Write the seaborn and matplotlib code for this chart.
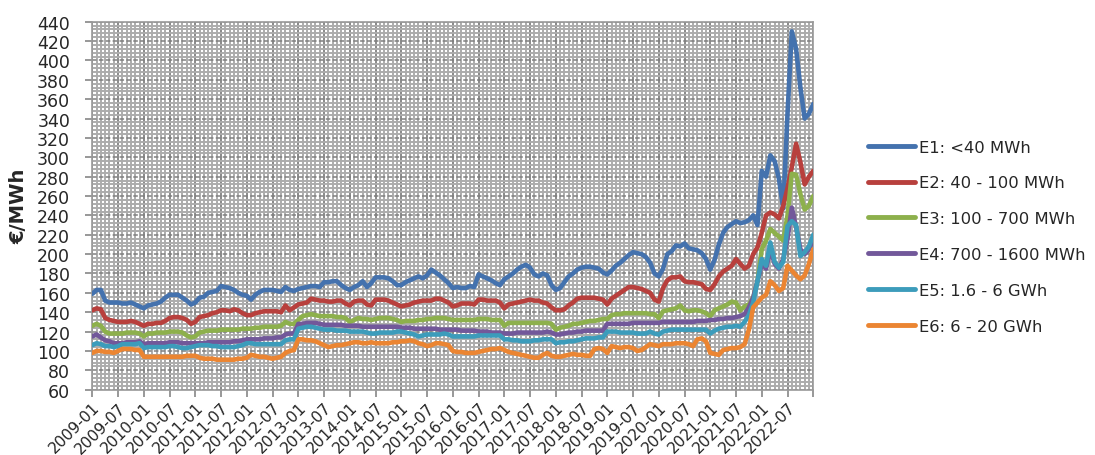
import numpy as np
import pandas as pd
import matplotlib
matplotlib.use("Agg")
import matplotlib.pyplot as plt
from matplotlib.ticker import MultipleLocator, FixedLocator
import seaborn as sns

# ---------------- data ----------------
months = pd.date_range("2009-01-01", "2023-01-01", freq="MS").strftime("%Y-%m").tolist()

series_names = ["E1: <40 MWh", "E2: 40 - 100 MWh", "E3: 100 - 700 MWh",
                "E4: 700 - 1600 MWh", "E5: 1.6 - 6 GWh", "E6: 6 - 20 GWh"]

e1 = [159, 163, 163, 152, 150, 150, 150, 149, 149, 150, 148, 146,
      144, 147, 148, 149, 151, 155, 158, 158, 158, 155, 152, 148,
      150, 155, 156, 160, 161, 162, 167, 166, 165, 163, 160, 158,
      157, 153, 158, 161, 163, 163, 163, 162, 161, 166, 163, 162,
      164, 165, 166, 167, 167, 166, 171, 171, 172, 172, 168, 165,
      163, 166, 168, 172, 166, 170, 176, 176, 176, 175, 172, 168,
      168, 171, 173, 175, 177, 175, 178, 184, 181, 178, 174, 170,
      165, 166, 165, 165, 167, 166, 179, 177, 175, 173, 170, 168,
      174, 177, 180, 184, 187, 189, 186, 179, 177, 180, 178, 168,
      163, 165, 171, 177, 180, 184, 186, 187, 187, 186, 185, 181,
      179, 183, 188, 191, 195, 199, 202, 201, 200, 197, 191, 180,
      177, 185, 200, 203, 209, 208, 211, 206, 205, 204, 201, 195,
      184, 194, 210, 222, 228, 231, 234, 232, 233, 235, 240, 230,
      286, 280, 302, 296, 278, 247, 345, 430, 412, 372, 340, 345,
      355]

e2 = [142, 144, 143, 134, 132, 131, 130, 130, 130, 131, 130, 128,
      126, 128, 128, 129, 129, 131, 134, 135, 135, 134, 132, 128,
      130, 135, 136, 137, 139, 140, 142, 142, 141, 143, 142, 139,
      137, 137, 139, 140, 141, 141, 141, 141, 140, 147, 142, 145,
      148, 149, 150, 154, 153, 152, 152, 151, 151, 152, 152, 149,
      147, 151, 152, 152, 148, 147, 153, 153, 153, 152, 150, 148,
      146, 147, 148, 150, 151, 152, 152, 152, 154, 154, 152, 150,
      146, 147, 149, 149, 149, 148, 153, 153, 152, 152, 152, 150,
      144, 148, 149, 150, 151, 152, 153, 152, 152, 150, 149, 145,
      142, 142, 143, 147, 150, 154, 155, 155, 155, 155, 154, 153,
      148, 154, 157, 160, 163, 166, 166, 165, 164, 162, 160, 153,
      151, 165, 173, 176, 176, 177, 172, 171, 171, 170, 169, 164,
      163, 169, 177, 182, 185, 188, 195, 190, 185, 188, 200, 207,
      222, 240, 243, 241, 237, 250, 268, 290, 314, 295, 272, 280,
      286]

e3 = [126, 128, 126, 120, 118, 118, 118, 118, 119, 119, 119, 118,
      115, 118, 118, 119, 119, 119, 120, 120, 120, 119, 116, 114,
      115, 119, 120, 121, 121, 121, 122, 122, 122, 122, 122, 123,
      123, 123, 124, 124, 125, 125, 125, 125, 126, 130, 128, 128,
      132, 136, 137, 138, 137, 136, 136, 136, 136, 135, 135, 134,
      130, 132, 134, 133, 133, 132, 133, 134, 134, 134, 133, 132,
      130, 131, 131, 131, 132, 132, 133, 133, 134, 134, 134, 133,
      132, 132, 132, 132, 132, 132, 133, 133, 133, 132, 132, 132,
      126, 129, 129, 129, 129, 129, 129, 129, 129, 129, 129, 128,
      122, 124, 125, 126, 128, 128, 129, 130, 131, 131, 132, 133,
      133, 137, 138, 138, 139, 139, 139, 139, 139, 139, 138, 138,
      134, 141, 142, 143, 144, 147, 142, 141, 142, 142, 141, 139,
      136, 142, 144, 146, 148, 151, 150, 142, 146, 148, 155, 172,
      205, 214, 226, 222, 218, 214, 240, 283, 282, 262, 246, 250,
      260]

e4 = [115, 117, 114, 111, 110, 108, 108, 108, 109, 109, 109, 110,
      107, 108, 108, 108, 108, 108, 109, 109, 109, 108, 108, 108,
      108, 108, 108, 109, 109, 109, 109, 109, 109, 110, 110, 111,
      112, 112, 112, 112, 113, 113, 113, 114, 114, 117, 118, 118,
      128, 128, 129, 129, 129, 128, 127, 127, 127, 127, 127, 126,
      126, 126, 126, 125, 125, 125, 125, 125, 125, 125, 125, 125,
      124, 124, 124, 123, 123, 123, 123, 123, 123, 122, 122, 122,
      122, 122, 121, 121, 121, 121, 120, 120, 120, 119, 119, 119,
      118, 118, 118, 119, 119, 119, 119, 119, 119, 119, 120, 119,
      117, 117, 118, 119, 119, 120, 120, 121, 121, 121, 121, 121,
      128, 128, 128, 128, 128, 128, 129, 129, 129, 129, 129, 129,
      129, 130, 130, 130, 130, 130, 130, 130, 130, 131, 131, 131,
      132, 132, 133, 133, 134, 134, 135, 136, 138, 145, 155, 172,
      190, 185, 205, 190, 185, 195, 216, 248, 228, 205, 200, 205,
      215]

e5 = [106, 108, 107, 105, 105, 104, 105, 107, 107, 107, 107, 108,
      103, 104, 104, 104, 104, 104, 105, 105, 104, 103, 103, 104,
      105, 106, 106, 106, 105, 105, 104, 104, 104, 104, 105, 106,
      108, 108, 107, 107, 107, 107, 107, 107, 107, 111, 112, 112,
      123, 124, 125, 125, 124, 123, 122, 122, 122, 121, 121, 121,
      120, 120, 120, 120, 119, 118, 118, 119, 119, 119, 119, 120,
      120, 119, 118, 117, 115, 116, 117, 117, 117, 117, 118, 117,
      115, 115, 115, 115, 115, 115, 116, 116, 116, 116, 116, 116,
      112, 112, 111, 111, 110, 110, 110, 111, 111, 112, 112, 112,
      108, 109, 109, 110, 110, 111, 112, 113, 113, 113, 114, 114,
      120, 120, 120, 119, 119, 119, 119, 118, 118, 118, 120, 118,
      117, 120, 121, 122, 122, 122, 122, 122, 122, 122, 122, 122,
      118, 121, 123, 124, 125, 125, 126, 125, 130, 137, 150, 172,
      195, 188, 212, 192, 186, 192, 229, 234, 230, 198, 202, 208,
      220]

e6 = [98, 100, 100, 99, 99, 98, 100, 102, 102, 102, 101, 101,
      94, 94, 94, 94, 94, 94, 94, 94, 94, 94, 95, 95,
      95, 93, 92, 92, 92, 91, 91, 91, 91, 91, 92, 92,
      93, 96, 95, 94, 94, 93, 92, 93, 94, 98, 100, 101,
      112, 112, 111, 111, 110, 108, 106, 104, 105, 106, 106, 107,
      108, 109, 109, 108, 108, 109, 108, 108, 108, 108, 109, 109,
      110, 110, 111, 110, 108, 107, 105, 106, 108, 108, 107, 106,
      100, 99, 99, 98, 98, 98, 99, 100, 101, 102, 102, 103,
      101, 99, 98, 97, 96, 95, 94, 93, 93, 96, 98, 95,
      94, 94, 95, 96, 97, 96, 96, 95, 95, 102, 103, 102,
      98, 105, 104, 103, 104, 104, 103, 100, 101, 104, 107, 106,
      105, 107, 107, 107, 108, 108, 108, 107, 105, 112, 113, 110,
      98, 97, 96, 101, 102, 103, 103, 104, 107, 122, 145, 150,
      155, 158, 172, 168, 162, 165, 188, 183, 178, 174, 178, 190,
      205]

tick_labels = [m for m in months if m.endswith("-01") or m.endswith("-07")][:-1]

colors = ["#4472AE", "#B8403D", "#8DB04C", "#72589A", "#3C9CBB", "#EB8532"]

# ---------------- build long table ----------------
frames = []
for name, vals in zip(series_names, [e1, e2, e3, e4, e5, e6]):
    frames.append(pd.DataFrame({"idx": np.arange(len(months)), "month": months,
                                "value": vals, "series": name}))
df = pd.concat(frames, ignore_index=True)

# ---------------- plot ----------------
sns.set_style("white")
plt.rcParams["font.family"] = ["DejaVu Sans"]

fig = plt.figure(figsize=(10.95, 4.56), dpi=100)
ax = fig.add_axes([0.0843, 0.1432, 0.6584, 0.8070])

sns.lineplot(data=df, x="idx", y="value", hue="series", palette=colors,
             hue_order=series_names, linewidth=3.3, ax=ax, legend=True,
             solid_capstyle="round", solid_joinstyle="round", zorder=5)

ax.set_xlim(0, len(months) - 1)
ax.set_ylim(60, 440)

# grids
ax.set_facecolor("white")
ax.xaxis.set_minor_locator(MultipleLocator(1))
ax.yaxis.set_minor_locator(MultipleLocator(4))
ax.grid(which="minor", axis="both", color="#acacac", linewidth=1.4, zorder=0)
ax.set_axisbelow(True)

major_x = list(range(0, len(months), 6))
ax.xaxis.set_major_locator(FixedLocator(major_x))
ax.set_yticks(np.arange(60, 441, 20))
ax.grid(which="major", axis="x", color="#808080", linewidth=1.3, zorder=1)
ax.grid(which="major", axis="y", color="#808080", linewidth=1.1,
        linestyle=(0, (3, 1.5)), zorder=1)

labels = [months[i] if months[i] in tick_labels else "" for i in major_x]
ax.set_xticklabels(labels, rotation=45, ha="right", rotation_mode="anchor",
                   fontsize=11.2)
ax.tick_params(axis="y", labelsize=12.5, length=5, width=1.2, color="#868686",
               direction="out", left=True, pad=11)
ax.tick_params(axis="x", length=5, width=1.2, color="#868686",
               direction="out", bottom=True, pad=2)
ax.tick_params(which="minor", length=0)

for s in ax.spines.values():
    s.set_color("#9a9a9a")
    s.set_linewidth(1.2)

ax.set_xlabel("")
ax.set_ylabel("€/MWh", fontsize=14, fontweight="bold", labelpad=6)

# legend
handles, labs = ax.get_legend_handles_labels()
ax.legend_.remove()
fig.legend(handles, labs, loc="center left", bbox_to_anchor=(0.785, 0.479),
           frameon=False, fontsize=11.8, handlelength=2.9, handletextpad=0.2,
           labelspacing=1.27, borderpad=0)
for line in fig.legends[0].get_lines():
    line.set_linewidth(3.5)

fig.savefig("out.png", dpi=100)
